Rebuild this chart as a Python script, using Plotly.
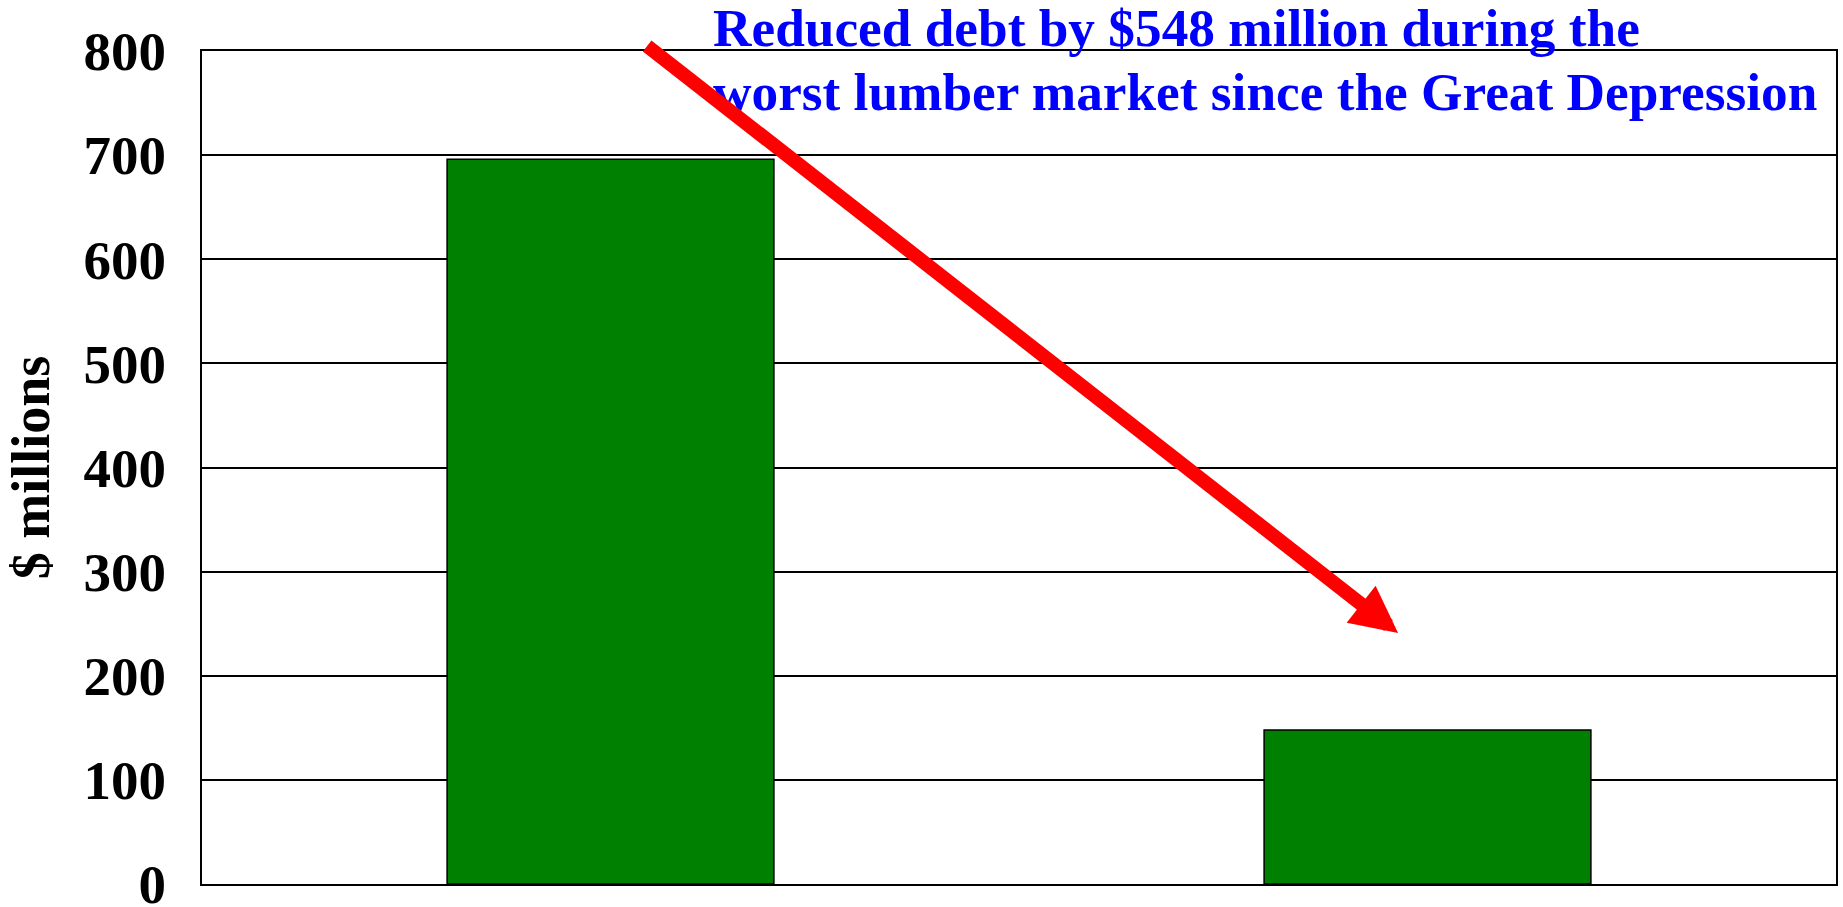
import plotly.graph_objects as go

# Debt levels ($ millions), before and after
categories = ["Before", "After"]
debt = [696, 148]
y_ticks = [0, 100, 200, 300, 400, 500, 600, 700, 800]

note_lines = [
    "Reduced debt by $548 million during the",
    "worst lumber market since the Great Depression",
]

SERIF = "Liberation Serif, Times New Roman, serif"

# Plot-area geometry in pixels, used to place the callout text
W, H = 1843, 907
ML, MR, MT, MB = 202, 7, 51, 23
PLOT_W = W - ML - MR
PLOT_H = H - MT - MB

fig = go.Figure(
    go.Bar(
        x=categories,
        y=debt,
        width=0.4,
        marker=dict(color="#008000", line=dict(color="#000000", width=1.5)),
    )
)

fig.update_layout(
    width=W,
    height=H,
    margin=dict(l=ML, r=MR, t=MT, b=MB, autoexpand=False),
    paper_bgcolor="white",
    plot_bgcolor="white",
    showlegend=False,
    font=dict(family=SERIF, color="black"),
    xaxis=dict(
        range=[-0.5, 1.5],
        showticklabels=False,
        ticks="",
        showgrid=False,
        showline=True,
        linecolor="black",
        linewidth=2,
        mirror=True,
        zeroline=False,
        automargin=False,
    ),
    yaxis=dict(
        range=[0, 800],
        tickvals=y_ticks,
        ticks="",
        tickfont=dict(family=SERIF, size=55, color="black", weight="bold"),
        ticklabelstandoff=23,
        ticklabeloverflow="allow",
        showgrid=True,
        gridcolor="black",
        gridwidth=2,
        showline=True,
        linecolor="black",
        linewidth=2,
        mirror=True,
        zeroline=False,
        automargin=False,
        title=dict(
            text="$ millions",
            font=dict(family=SERIF, size=54, color="black", weight="bold"),
            standoff=17,
        ),
    ),
)

# Callout text above the chart, one annotation per line
NOTE_SIZE = 53.3
for line, center_px in zip(note_lines, [28, 92]):
    fig.add_annotation(
        xref="paper",
        yref="paper",
        x=(711 - ML) / PLOT_W,
        y=(H - MB - center_px) / PLOT_H,
        xanchor="left",
        yanchor="middle",
        align="left",
        showarrow=False,
        text=line,
        font=dict(family=SERIF, size=NOTE_SIZE, color="#0000FF", weight="bold"),
    )

# Red arrow pointing down from the old debt level to the new one
fig.add_annotation(
    xref="x",
    yref="y",
    axref="x",
    ayref="y",
    x=0.964,
    y=241,
    ax=0.043,
    ay=806,
    text="",
    showarrow=True,
    arrowhead=2,
    arrowsize=0.67,
    arrowwidth=14,
    arrowcolor="#FF0000",
    standoff=0,
)

fig.write_html("out.html")
